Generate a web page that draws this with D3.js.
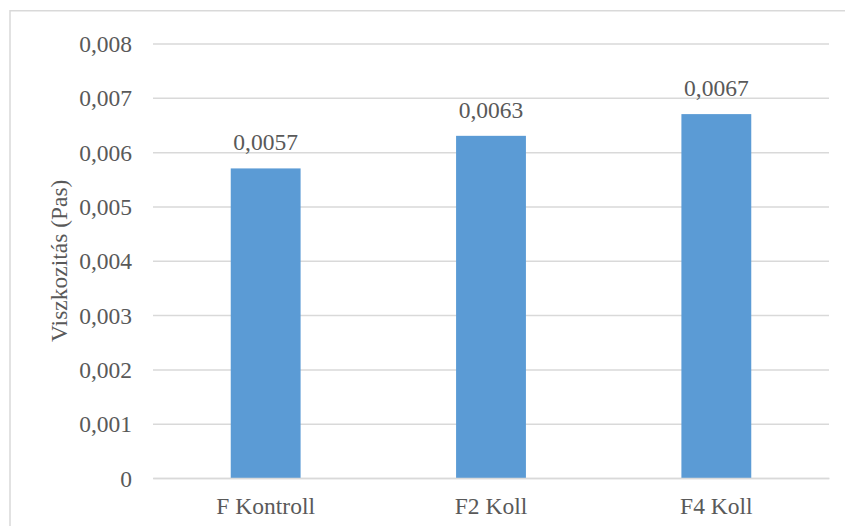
<!DOCTYPE html>
<html>
<head>
<meta charset="utf-8">
<script src="https://cdn.jsdelivr.net/npm/d3@7"></script>
<style>
  html, body { margin: 0; padding: 0; background: #fff; }
  svg { display: block; }
</style>
</head>
<body>
<svg id="chart" width="845" height="526"></svg>
<script>
// Viscosity per sample
const categories = ["F Kontroll", "F2 Koll", "F4 Koll"];
const viscosity = [0.0057, 0.0063, 0.0067];
const valueLabels = ["0,0057", "0,0063", "0,0067"];
const yTicks = [0, 0.001, 0.002, 0.003, 0.004, 0.005, 0.006, 0.007, 0.008];
const yTickLabels = ["0", "0,001", "0,002", "0,003", "0,004", "0,005", "0,006", "0,007", "0,008"];
const yTitle = "Viszkozitás (Pas)";

const FONT = '"Times New Roman", Times, "Liberation Serif", Tinos, "DejaVu Serif", serif';
const fontSize = 23.5;
const textColor = "#595959";

const svg = d3.select("#chart")
  .attr("font-family", FONT);
const plot = { left: 153, right: 829, top: 43.5, bottom: 478 };

// chart frame
svg.append("path")
  .attr("d", "M10,526 L10,10.8 L845,10.8")
  .attr("fill", "none")
  .attr("stroke", "#d9d9d9")
  .attr("stroke-width", 1.5);

const y = d3.scaleLinear().domain([0, 0.008]).range([plot.bottom, plot.top]);
const x = d3.scaleBand().domain(categories)
  .range([plot.left, plot.right])
  .paddingInner(0.69)
  .paddingOuter(0.345);

// horizontal gridlines via axis
const yAxis = d3.axisLeft(y)
  .tickValues(yTicks)
  .tickSize(-(plot.right - plot.left))
  .tickFormat((d, i) => yTickLabels[i]);

const gy = svg.append("g")
  .attr("transform", `translate(${plot.left},0)`)
  .call(yAxis)
  .attr("font-family", FONT)
  .attr("font-size", fontSize);
gy.select(".domain").remove();
gy.selectAll(".tick line")
  .attr("stroke", "#d9d9d9")
  .attr("stroke-width", 1.5);
gy.selectAll(".tick text")
  .attr("x", -21)
  .attr("dy", "0.34em")
  .attr("fill", textColor);

// bars
svg.append("g").selectAll("rect")
  .data(viscosity)
  .join("rect")
  .attr("x", (d, i) => x(categories[i]))
  .attr("y", d => y(d))
  .attr("width", x.bandwidth())
  .attr("height", d => y(0) - y(d))
  .attr("fill", "#5b9bd5");

// category axis
const xAxis = d3.axisBottom(x).tickSize(0).tickPadding(0);
const gx = svg.append("g")
  .attr("transform", `translate(0,${plot.bottom})`)
  .call(xAxis)
  .attr("font-family", FONT)
  .attr("font-size", fontSize);
gx.select(".domain")
  .attr("stroke", "#d9d9d9")
  .attr("stroke-width", 1.5);
gx.selectAll(".tick text")
  .attr("y", 36)
  .attr("dy", null)
  .attr("fill", textColor);

// value labels above bars
svg.append("g")
  .attr("font-size", fontSize)
  .attr("fill", textColor)
  .selectAll("text")
  .data(viscosity)
  .join("text")
  .attr("x", (d, i) => x(categories[i]) + x.bandwidth() / 2)
  .attr("y", d => y(d) - 18)
  .attr("text-anchor", "middle")
  .text((d, i) => valueLabels[i]);

// y-axis title
svg.append("text")
  .attr("transform", `translate(67,${(plot.top + plot.bottom) / 2}) rotate(-90)`)
  .attr("text-anchor", "middle")
  .attr("font-size", fontSize)
  .attr("fill", textColor)
  .text(yTitle);
</script>
</body>
</html>
